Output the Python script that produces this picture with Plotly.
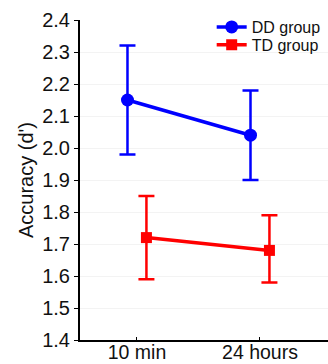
import plotly.graph_objects as go

categories = ["10 min", "24 hours"]
dd_mean = [2.15, 2.04]
dd_upper = [2.32, 2.18]
dd_lower = [1.98, 1.90]
td_mean = [1.72, 1.68]
td_upper = [1.85, 1.79]
td_lower = [1.59, 1.58]
ytick_vals = [1.4, 1.5, 1.6, 1.7, 1.8, 1.9, 2.0, 2.1, 2.2, 2.3, 2.4]

offset = 0.077
xpos = list(range(len(categories)))

def trace(name, mean, up, lo, color, symbol, size, shift, legend):
    return go.Scatter(
        x=[p + shift for p in xpos], y=mean, name=name, legend=legend,
        mode="lines+markers",
        line=dict(color=color, width=3.5),
        marker=dict(color=color, symbol=symbol, size=size),
        error_y=dict(type="data", symmetric=False,
                     array=[u - m for u, m in zip(up, mean)],
                     arrayminus=[m - l for m, l in zip(mean, lo)],
                     color=color, thickness=2.5, width=8),
    )

fig = go.Figure()
fig.add_trace(trace("DD group", dd_mean, dd_upper, dd_lower, "#0000ff", "circle", 13, -offset, "legend"))
fig.add_trace(trace("TD group", td_mean, td_upper, td_lower, "#ff0000", "square", 11, offset, "legend2"))

leg_common = dict(x=0.531, xanchor="left", yanchor="middle",
                  font=dict(size=16), bgcolor="rgba(0,0,0,0)", itemwidth=30)

fig.update_layout(
    width=328, height=364,
    margin=dict(l=80, r=0, t=20, b=24, autoexpand=False),
    paper_bgcolor="white", plot_bgcolor="white",
    font=dict(family="Liberation Sans, Arial", color="#111111"),
    showlegend=True,
    legend=dict(y=0.978, **leg_common),
    legend2=dict(y=0.922, **leg_common),
    xaxis=dict(range=[-0.463, 1.553], tickvals=xpos, ticktext=categories,
               showline=True, linecolor="black", linewidth=2,
               ticks="inside", ticklen=3, tickcolor="black",
               ticklabelstandoff=-6,
               showgrid=False, zeroline=False, tickfont=dict(size=19.5)),
    yaxis=dict(range=[1.4, 2.4], tickvals=ytick_vals,
               tickformat=".1f",
               showline=True, linecolor="black", linewidth=2,
               ticks="outside", ticklen=4, tickcolor="black",
               ticklabelstandoff=0,
               showgrid=True, gridcolor="#f3f3f3", zeroline=False,
               tickfont=dict(size=20),
               title=dict(text="Accuracy (d')", font=dict(size=20), standoff=3)),
)

fig.write_html("out.html", config={"displayModeBar": False},
               post_script="document.body.style.margin='0';")
